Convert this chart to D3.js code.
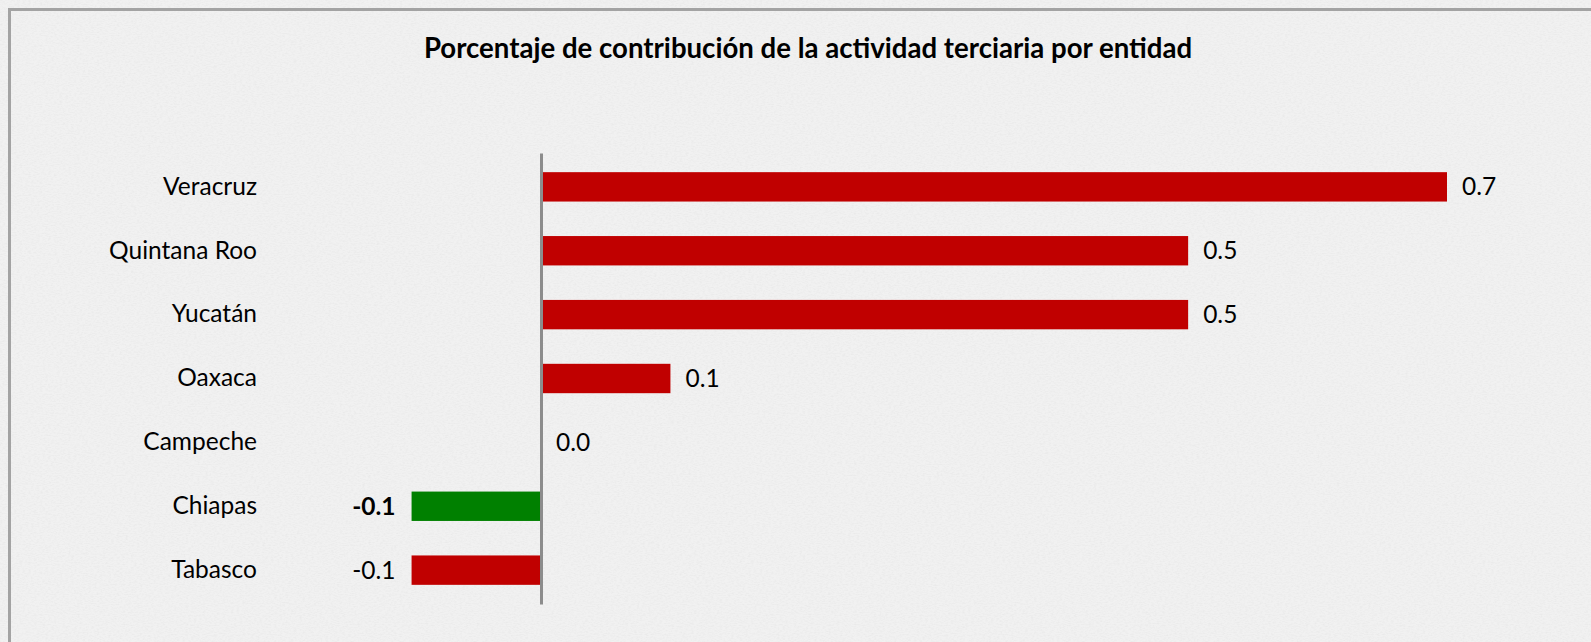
<!DOCTYPE html>
<html>
<head>
<meta charset="utf-8">
<script src="https://cdn.jsdelivr.net/npm/d3@7"></script>
<style>
  html, body { margin: 0; padding: 0; background: #eeeeee; }
  svg { display: block; }
</style>
</head>
<body>
<svg width="1591" height="642"></svg>
<script>
// Data
var entidades = ["Veracruz", "Quintana Roo", "Yucatán", "Oaxaca", "Campeche", "Chiapas", "Tabasco"];
var valores = [0.7, 0.5, 0.5, 0.1, 0.0, -0.1, -0.1];
var destacada = "Chiapas";
var titulo = "Porcentaje de contribución de la actividad terciaria por entidad";

var W = 1591, H = 642;
var fuente = "Lato, 'Open Sans', sans-serif";
var svg = d3.select("svg");

// paper-like background
var defs = svg.append("defs");
var f = defs.append("filter").attr("id", "paper")
    .attr("x", 0).attr("y", 0).attr("width", "100%").attr("height", "100%");
f.append("feTurbulence").attr("type", "fractalNoise")
    .attr("baseFrequency", "0.35 0.9").attr("numOctaves", 3).attr("seed", 4).attr("result", "noise");
f.append("feColorMatrix").attr("in", "noise").attr("type", "matrix")
    .attr("values", "0 0 0 0 0.55  0 0 0 0 0.55  0 0 0 0 0.55  0 0 0 -0.9 0.55");

svg.append("rect").attr("width", W).attr("height", H).attr("fill", "#f1f1f1");
svg.append("rect").attr("width", W).attr("height", H).attr("filter", "url(#paper)").attr("opacity", 0.35);

// frame (top and left visible)
svg.append("path")
    .attr("d", "M9.5," + H + "V9.5H" + W)
    .attr("fill", "none")
    .attr("stroke", "#a3a3a3")
    .attr("stroke-width", 3);

// title
svg.append("text")
    .attr("x", 808)
    .attr("y", 58)
    .attr("text-anchor", "middle")
    .style("font-family", fuente)
    .style("font-weight", "bold")
    .style("font-size", "27.6px")
    .attr("fill", "#000")
    .text(titulo);

// scales
var x = d3.scaleLinear()
    .domain([0, 0.7])
    .range([541, 1447]);

var y = d3.scaleBand()
    .domain(entidades)
    .range([153, 604])
    .paddingInner(0.54)
    .paddingOuter(0.3);

var data = entidades.map(function(d, i) { return {name: d, value: valores[i]}; });

// bars
svg.selectAll(".bar")
    .data(data)
  .enter().append("rect")
    .attr("class", "bar")
    .attr("x", function(d) { return x(Math.min(0, d.value)); })
    .attr("y", function(d) { return y(d.name); })
    .attr("width", function(d) { return Math.abs(x(d.value) - x(0)); })
    .attr("height", y.bandwidth())
    .attr("fill", function(d) { return d.name === destacada ? "#008000" : "#c00000"; });

// category axis
var axis = svg.append("g")
    .attr("transform", "translate(" + x(0) + ",0)")
    .call(d3.axisLeft(y).tickSize(0).tickPadding(284));
axis.select(".domain")
    .attr("stroke", "#8c8c8c")
    .attr("stroke-width", 3);
axis.selectAll("text")
    .style("font-family", fuente)
    .style("font-size", "24.5px")
    .attr("fill", "#000");

// value labels (plain hyphen for negatives, as in the original)
var fmt = function(v) { return d3.format(".1f")(v).replace("\u2212", "-"); };

svg.selectAll(".label")
    .data(data)
  .enter().append("text")
    .attr("class", "label")
    .attr("x", function(d) { return d.value < 0 ? x(d.value) - 16 : x(d.value) + 15; })
    .attr("y", function(d) { return y(d.name) + y.bandwidth() / 2; })
    .attr("dy", "0.35em")
    .attr("text-anchor", function(d) { return d.value < 0 ? "end" : "start"; })
    .style("font-family", fuente)
    .style("font-size", "24.5px")
    .style("font-weight", function(d) { return d.name === destacada ? "bold" : "normal"; })
    .attr("fill", "#000")
    .text(function(d) { return fmt(d.value); });
</script>
</body>
</html>
